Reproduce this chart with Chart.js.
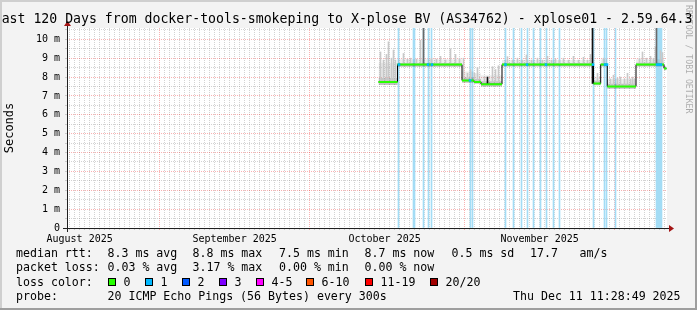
<!DOCTYPE html>
<html>
<head>
<meta charset="utf-8">
<title>xplose01 - last 120 days</title>
<script src="https://cdn.jsdelivr.net/npm/chart.js@4.4.1/dist/chart.umd.min.js"></script>
<style>
  html, body { margin: 0; padding: 0; background: #f3f3f3; }
  canvas { display: block; }
</style>
</head>
<body>
<canvas id="smoke" width="697" height="310"></canvas>
<script>
// x values are days since Aug 13 2025 00:00, graph ends Thu Dec 11 11:28:49
const xStart = 0.478
const xEnd = 120.478

const monthStartDays = [19, 49, 80, 110]
const monthLabelDays = [3, 34, 64, 95]
const monthLabels = ['August 2025', 'September 2025', 'October 2025', 'November 2025']

const yMax = 10.6
const yLabelValues = [0, 1, 2, 3, 4, 5, 6, 7, 8, 9, 10]
const yLabels = ['0', '1 m', '2 m', '3 m', '4 m', '5 m', '6 m', '7 m', '8 m', '9 m', '10 m']

// median rtt in ms, one entry per flat stretch
const levelStart = [62.778, 66.578, 79.478, 81.878, 83.278, 87.478, 105.778, 107.218, 108.538, 114.278, 119.878]
const levelEnd = [66.578, 79.478, 81.878, 83.278, 87.478, 105.778, 107.218, 108.538, 114.278, 119.878, 120.378]
const levelMedian = [7.74, 8.66, 7.82, 7.74, 7.62, 8.66, 7.66, 8.66, 7.50, 8.66, 8.46]
// smoke around the median
const levelCoreLow = [7.58, 8.55, 7.70, 7.64, 7.50, 8.56, 7.56, 8.56, 7.38, 8.56, 8.36]
const levelCoreHigh = [7.95, 8.74, 7.98, 7.90, 7.78, 8.74, 7.80, 8.74, 7.64, 8.76, 8.56]
const levelHazeHigh = [8.75, 8.95, 8.30, 8.20, 8.10, 8.90, 8.00, 8.95, 7.90, 8.95, 8.60]

// single slow pings sticking out of the smoke
const spikeDays = [63.178, 63.778, 64.378, 64.778, 65.378, 65.778, 66.178,
  67.778, 68.578, 69.178, 70.378, 71.178, 73.378, 74.378, 75.178, 76.178, 77.178, 78.178, 78.978,
  79.778, 80.578, 81.178, 81.978, 82.578, 83.978, 85.578, 86.178, 86.778,
  88.578, 89.578, 90.578, 91.578, 92.378, 93.378, 94.578, 95.578, 96.578, 97.378, 98.178, 98.978,
  99.778, 100.778, 101.778, 102.778, 103.778, 104.578, 105.178, 106.578, 107.778,
  109.178, 109.778, 110.578, 111.178, 111.978, 112.578, 113.178, 113.578, 113.978,
  114.978, 115.578, 116.378, 117.178, 117.778, 118.178, 119.178, 119.578]
const spikeHigh = [9.33, 8.9, 9.2, 9.87, 9.0, 9.43, 8.9,
  9.25, 8.95, 9.0, 8.95, 9.95, 9.0, 8.95, 9.1, 8.9, 9.5, 9.2, 9.0,
  9.0, 8.2, 8.4, 8.2, 8.5, 8.0, 8.55, 8.4, 8.6,
  9.08, 8.9, 9.0, 8.9, 9.17, 8.9, 9.0, 8.9, 9.1, 8.9, 8.95, 8.9,
  9.0, 8.9, 9.1, 8.9, 9.05, 8.9, 9.2, 8.2, 9.0,
  7.9, 8.1, 7.95, 8.0, 7.9, 8.2, 7.9, 8.0, 7.9,
  9.0, 9.33, 9.0, 9.1, 9.0, 9.6, 9.4, 9.3]
const tallSpikeDays = [71.778, 118.378]
const tallSpikeLow = [8.66, 8.66]
const tallSpikeHigh = [10.6, 10.6]
const blackSpikeDays = [84.578, 105.578]
const blackSpikeLow = [7.62, 7.66]
const blackSpikeHigh = [8.0, 10.6]

// samples with 1/20 lost
const lossDays = [66.778, 69.778, 69.978, 71.778, 72.778, 73.378, 81.178, 81.578, 88.178, 89.778,
  91.378, 92.578, 93.778, 95.178, 96.378, 97.778, 98.978, 105.778, 107.978, 108.378, 110.178,
  118.378, 118.578, 118.778, 118.978, 119.178, 119.378]
const lossMedianDays = [66.878, 72.678, 73.478, 81.078, 88.178, 92.478, 96.278, 105.678, 108.078,
  108.478, 118.478, 118.878, 119.278]

const rttStats = ['8.3 ms avg', '8.8 ms max', '7.5 ms min', '8.7 ms now', '0.5 ms sd', '17.7', 'am/s']
const lossStats = ['0.03 % avg', '3.17 % max', '0.00 % min', '0.00 % now']
const lossColorLabels = ['0', '1', '2', '3', '4-5', '6-10', '11-19', '20/20']
const probeText = '20 ICMP Echo Pings (56 Bytes) every 300s'
const stampText = 'Thu Dec 11 11:28:49 2025'
const titleText = 'Last 120 Days from docker-tools-smokeping to X-plose BV (AS34762) - xplose01 - 2.59.64.3'

const mono = '"DejaVu Sans Mono", monospace'
const lossPalette = ['#26ff00', '#00b8ff', '#0059ff', '#7e00ff', '#ff00ff', '#ff5500', '#ff0000', '#a10000']
const minorGrid = 'rgba(140,140,140,0.38)'
const majorGrid = 'rgba(235,0,0,0.3)'

function medianAt(day) {
  for (let i = 0; i < levelStart.length; i++) {
    if (day >= levelStart[i] && day < levelEnd[i]) return levelMedian[i]
  }
  return null
}

function steps(values) {
  const pts = levelStart.map((d, i) => ({ x: d, y: values[i] }))
  pts.push({ x: levelEnd[levelEnd.length - 1], y: values[values.length - 1] })
  return pts
}

const medianPieces = []
levelStart.forEach((d, i) => {
  medianPieces.push({ x: d, y: levelMedian[i] }, { x: levelEnd[i], y: levelMedian[i] }, { x: levelEnd[i], y: null })
})

const dayTicks = Array.from({ length: 120 }, (_, i) => i + 1)
const yTickValues = Array.from({ length: 22 }, (_, i) => i / 2)

const rrdLook = {
  id: 'rrdLook',
  beforeDraw(chart) {
    const { ctx, chartArea: a, width, height } = chart
    ctx.save()
    ctx.fillStyle = '#f3f3f3'
    ctx.fillRect(0, 0, width, height)
    ctx.fillStyle = '#ffffff'
    ctx.fillRect(a.left, a.top, a.right - a.left, a.bottom - a.top)
    ctx.restore()
  },
  afterDraw(chart) {
    const { ctx, chartArea: a, width, height } = chart
    ctx.save()

    // axes + arrows
    ctx.strokeStyle = '#202020'
    ctx.lineWidth = 1
    ctx.beginPath()
    ctx.moveTo(a.left - 4, a.bottom + 0.5)
    ctx.lineTo(a.right + 4, a.bottom + 0.5)
    ctx.moveTo(a.left + 0.5, a.bottom + 4)
    ctx.lineTo(a.left + 0.5, a.top - 4)
    ctx.stroke()
    ctx.fillStyle = '#a31515'
    ctx.beginPath()
    ctx.moveTo(a.right + 2, a.bottom - 3)
    ctx.lineTo(a.right + 2, a.bottom + 4)
    ctx.lineTo(a.right + 7, a.bottom + 0.5)
    ctx.closePath()
    ctx.fill()
    ctx.beginPath()
    ctx.moveTo(a.left - 3, a.top - 2)
    ctx.lineTo(a.left + 4, a.top - 2)
    ctx.lineTo(a.left + 0.5, a.top - 7)
    ctx.closePath()
    ctx.fill()

    // title
    ctx.fillStyle = '#000'
    ctx.font = '13.2px ' + mono
    ctx.textBaseline = 'alphabetic'
    ctx.textAlign = 'left'
    ctx.fillText(titleText, -6.3, 22.7)

    // legend lines
    ctx.font = '11.6px ' + mono
    const statX = [107.5, 192.5, 279, 364.5, 451.5, 530, 579.5]
    ctx.fillText('median rtt:', 16, 257)
    rttStats.forEach((t, i) => ctx.fillText(t, statX[i], 257))
    ctx.fillText('packet loss:', 16, 271.3)
    lossStats.forEach((t, i) => ctx.fillText(t, statX[i], 271.3))
    ctx.fillText('loss color:', 16, 285.6)
    const boxX = [108.5, 145.5, 182.5, 219.5, 256.5, 306.5, 365.5, 430.5]
    lossColorLabels.forEach((t, i) => {
      ctx.fillStyle = lossPalette[i]
      ctx.fillRect(boxX[i], 278.5, 7, 7)
      ctx.strokeStyle = '#000'
      ctx.strokeRect(boxX[i], 278.5, 7, 7)
      ctx.fillStyle = '#000'
      ctx.fillText(t, boxX[i] + 15, 285.6)
    })
    ctx.fillText('probe:', 16, 300)
    ctx.fillText(probeText, 107.5, 300)
    ctx.fillText(stampText, 513, 300)

    // watermark
    ctx.save()
    ctx.translate(688.5, 5)
    ctx.rotate(Math.PI / 2)
    ctx.font = '8.2px ' + mono
    ctx.fillStyle = 'rgba(0,0,0,0.3)'
    ctx.textBaseline = 'middle'
    ctx.fillText('RRDTOOL / TOBI OETIKER', 0, 0)
    ctx.restore()

    // frame
    ctx.fillStyle = '#cfcfcf'
    ctx.fillRect(0, 0, width, 2)
    ctx.fillRect(0, 0, 2, height)
    ctx.fillStyle = '#9e9e9e'
    ctx.fillRect(0, height - 2, width, 2)
    ctx.fillRect(width - 2, 0, 2, height)
    ctx.restore()
  }
}

new Chart(document.getElementById('smoke'), {
  type: 'bar',
  plugins: [rrdLook],
  data: {
    datasets: [
      {
        label: 'loss 1/20',
        type: 'bar',
        data: lossDays.map(d => ({ x: d, y: [0, yMax] })),
        backgroundColor: '#a3dcf5',
        barThickness: 1,
        grouped: false,
        order: 9
      },
      {
        label: 'haze',
        type: 'line',
        data: steps(levelHazeHigh),
        stepped: true,
        borderWidth: 0,
        borderColor: 'rgba(0,0,0,0)',
        backgroundColor: 'rgba(0,0,0,0.07)',
        pointRadius: 0,
        fill: '+1',
        order: 8
      },
      {
        label: 'haze base',
        type: 'line',
        data: steps(levelCoreLow),
        stepped: true,
        borderWidth: 0,
        borderColor: 'rgba(0,0,0,0)',
        pointRadius: 0,
        fill: false,
        order: 8
      },
      {
        label: 'core',
        type: 'line',
        data: steps(levelCoreHigh),
        stepped: true,
        borderWidth: 0,
        borderColor: 'rgba(0,0,0,0)',
        backgroundColor: 'rgba(0,0,0,0.18)',
        pointRadius: 0,
        fill: 2,
        order: 7
      },
      {
        label: 'spikes',
        type: 'bar',
        data: spikeDays.map((d, i) => ({ x: d, y: [medianAt(d), spikeHigh[i]] })),
        backgroundColor: '#c8c8c8',
        barThickness: 1,
        grouped: false,
        order: 6
      },
      {
        label: 'tall spikes',
        type: 'bar',
        data: tallSpikeDays.map((d, i) => ({ x: d, y: [tallSpikeLow[i], tallSpikeHigh[i]] })),
        backgroundColor: '#6a6a6a',
        barThickness: 1,
        grouped: false,
        order: 5
      },
      {
        label: 'black spikes',
        type: 'bar',
        data: blackSpikeDays.map((d, i) => ({ x: d, y: [blackSpikeLow[i], blackSpikeHigh[i]] })),
        backgroundColor: '#111',
        barThickness: 1,
        grouped: false,
        order: 4
      },
      {
        label: 'steps',
        type: 'line',
        data: steps(levelMedian),
        stepped: true,
        borderColor: '#000',
        borderWidth: 1,
        pointRadius: 0,
        fill: false,
        order: 3
      },
      {
        label: 'median rtt',
        type: 'line',
        data: medianPieces,
        spanGaps: false,
        borderColor: lossPalette[0],
        borderWidth: 2,
        pointRadius: 0,
        fill: false,
        order: 2
      },
      {
        label: 'median with loss',
        type: 'line',
        data: lossMedianDays.map(d => ({ x: d, y: medianAt(d) })),
        showLine: false,
        pointStyle: 'rect',
        pointRadius: 1.8,
        pointBorderWidth: 0,
        pointBackgroundColor: lossPalette[1],
        order: 1
      }
    ]
  },
  options: {
    responsive: false,
    animation: false,
    events: [],
    layout: { padding: { left: 0, right: 30, top: 28, bottom: 0 } },
    plugins: {
      legend: { display: false },
      tooltip: { enabled: false },
      title: { display: false }
    },
    scales: {
      x: {
        type: 'linear',
        min: xStart,
        max: xEnd,
        offset: false,
        afterBuildTicks: s => { s.ticks = dayTicks.map(v => ({ value: v })) },
        afterFit: s => { s.height = 82 },
        grid: {
          offset: false,
          color: c => monthStartDays.includes(c.tick.value) ? majorGrid : minorGrid,
          tickColor: c => monthStartDays.includes(c.tick.value) ? majorGrid : minorGrid,
          tickLength: 2
        },
        border: { display: false, dash: [1, 1] },
        ticks: {
          autoSkip: false,
          maxRotation: 0,
          minRotation: 0,
          padding: 3,
          color: '#000',
          font: { family: mono, size: 10 },
          callback: v => {
            const i = monthLabelDays.indexOf(v)
            return i < 0 ? '' : monthLabels[i]
          }
        }
      },
      y: {
        min: 0,
        max: yMax,
        afterBuildTicks: s => { s.ticks = yTickValues.map(v => ({ value: v })) },
        afterFit: s => { s.width = 67 },
        grid: {
          color: c => (c.tick.value > 0 && yLabelValues.includes(c.tick.value)) ? majorGrid : minorGrid,
          tickColor: minorGrid,
          tickLength: 2
        },
        border: { display: false, dash: [1, 1] },
        ticks: {
          autoSkip: false,
          padding: 5,
          color: '#000',
          font: { family: mono, size: 10 },
          callback: v => {
            const i = yLabelValues.indexOf(v)
            return i < 0 ? '' : yLabels[i]
          }
        },
        title: {
          display: true,
          text: 'Seconds',
          color: '#000',
          font: { family: mono, size: 12 },
          padding: { top: 3, bottom: 0 }
        }
      }
    }
  }
})
</script>
</body>
</html>
